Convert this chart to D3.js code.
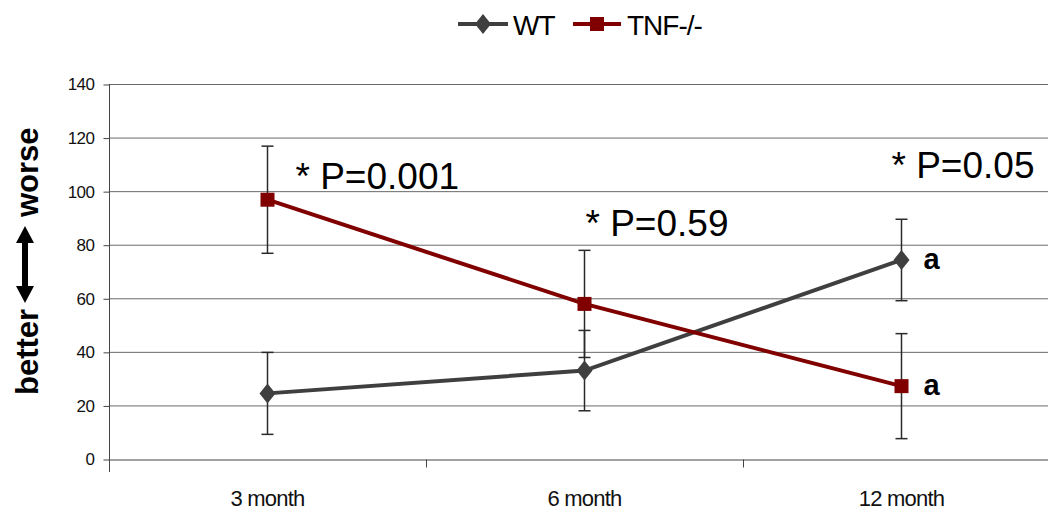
<!DOCTYPE html>
<html>
<head>
<meta charset="utf-8">
<script src="https://cdn.jsdelivr.net/npm/d3@7"></script>
<style>
  body { margin: 0; background: #fff; }
  svg { display: block; font-family: Arial, "Liberation Sans", sans-serif; }
</style>
</head>
<body>
<svg id="canvas" width="1048" height="510"></svg>
<script>
// data
let months = ['3 month', '6 month', '12 month']
let wtMean = [24.5, 33, 74.3]
let wtErr = [15.3, 15, 15.2]
let tnfMean = [96.8, 57.9, 27.2]
let tnfErr = [20, 20, 19.6]
let yTicks = [0, 20, 40, 60, 80, 100, 120, 140]
let pLabels = ['* P=0.001', '* P=0.59', '* P=0.05']
let pLevels = [100.8, 83.3, 104.9]
let groupLabels = ['a', 'a']

let svg = d3.select('#canvas')

let xScale = d3.scaleBand()
                .domain(months)
                .range([109, 1060])
                .padding(0)

let yScale = d3.scaleLinear()
                .domain([0, 140])
                .range([459, 84])

let cx = (m) => xScale(m) + xScale.bandwidth() / 2

// grid lines
svg.append('g')
    .selectAll('line')
    .data(yTicks.slice(1))
    .enter()
    .append('line')
    .attr('x1', 109)
    .attr('x2', 1048)
    .attr('y1', (d) => yScale(d) + 0.5)
    .attr('y2', (d) => yScale(d) + 0.5)
    .attr('stroke', '#6a6a6a')
    .attr('stroke-width', 1)

// y axis
let yAxis = d3.axisLeft(yScale).tickValues(yTicks).tickSize(6).tickSizeOuter(0).tickPadding(9)
let yG = svg.append('g')
    .attr('transform', 'translate(109.5, 0.5)')
    .call(yAxis)
yG.select('.domain').attr('stroke', '#444').attr('d', 'M0,0V388').attr('transform', 'translate(0,83.5)')
yG.selectAll('.tick line').attr('stroke', '#444')
yG.selectAll('.tick text')
    .attr('font-size', 17)
    .attr('letter-spacing', -0.5)
    .attr('fill', '#111')
    .attr('font-family', 'Arial, "Liberation Sans", sans-serif')

// x axis
let xAxis = d3.axisBottom(xScale).tickSize(0).tickPadding(0).tickFormat('')
let xG = svg.append('g')
    .attr('transform', 'translate(0, 459.5)')
    .call(xAxis)
xG.select('.domain').attr('stroke', '#444')
xG.selectAll('.sep')
    .data(months)
    .enter()
    .append('line')
    .attr('x1', (d) => xScale(d) + 0.5)
    .attr('x2', (d) => xScale(d) + 0.5)
    .attr('y1', 0)
    .attr('y2', 8)
    .attr('stroke', '#444')
svg.append('g')
    .selectAll('text')
    .data(months)
    .enter()
    .append('text')
    .attr('x', (d) => cx(d))
    .attr('y', 506)
    .attr('text-anchor', 'middle')
    .attr('font-size', 22)
    .attr('letter-spacing', -0.8)
    .attr('fill', '#111')
    .text((d) => d)

// error bars
let drawErrors = (means, errs) => {
    let g = svg.append('g').attr('stroke', '#2a2a2a').attr('stroke-width', 1.5)
    months.forEach((m, i) => {
        let x = cx(m)
        let top = yScale(means[i] + errs[i])
        let bot = yScale(means[i] - errs[i])
        g.append('line').attr('x1', x).attr('x2', x).attr('y1', top).attr('y2', bot)
        g.append('line').attr('x1', x - 6).attr('x2', x + 6).attr('y1', top).attr('y2', top)
        g.append('line').attr('x1', x - 6).attr('x2', x + 6).attr('y1', bot).attr('y2', bot)
    })
}
drawErrors(wtMean, wtErr)
drawErrors(tnfMean, tnfErr)

let line = d3.line()
                .x((d, i) => cx(months[i]))
                .y((d) => yScale(d))

let wtColor = '#3f3f3f'
let tnfColor = '#800000'

svg.append('path')
    .datum(wtMean)
    .attr('d', line)
    .attr('fill', 'none')
    .attr('stroke', wtColor)
    .attr('stroke-width', 4)

svg.append('path')
    .datum(tnfMean)
    .attr('d', line)
    .attr('fill', 'none')
    .attr('stroke', tnfColor)
    .attr('stroke-width', 4)

let diamond = (x, y) => 'M' + x + ',' + (y - 10) + 'L' + (x + 8) + ',' + y + 'L' + x + ',' + (y + 10) + 'L' + (x - 8) + ',' + y + 'Z'

svg.append('g')
    .selectAll('path')
    .data(wtMean)
    .enter()
    .append('path')
    .attr('d', (d, i) => diamond(cx(months[i]), yScale(d)))
    .attr('fill', wtColor)

svg.append('g')
    .selectAll('rect')
    .data(tnfMean)
    .enter()
    .append('rect')
    .attr('x', (d, i) => cx(months[i]) - 7)
    .attr('y', (d) => yScale(d) - 7)
    .attr('width', 14)
    .attr('height', 14)
    .attr('fill', tnfColor)

// p-value notes
let pOffsets = [28, 1, -10]
svg.append('g')
    .selectAll('text')
    .data(pLabels)
    .enter()
    .append('text')
    .attr('x', (d, i) => cx(months[i]) + pOffsets[i])
    .attr('y', (d, i) => yScale(pLevels[i]))
    .attr('font-size', 37)
    .attr('fill', '#000')
    .text((d) => d)

// 'a' marks at 12 month
let lastMeans = [wtMean[2], tnfMean[2]]
svg.append('g')
    .selectAll('text')
    .data(groupLabels)
    .enter()
    .append('text')
    .attr('x', cx(months[2]) + 22)
    .attr('y', (d, i) => yScale(lastMeans[i]) + 9)
    .attr('font-size', 29)
    .attr('font-weight', 'bold')
    .attr('fill', '#000')
    .text((d) => d)

// y axis label: better <-> worse
let lab = svg.append('g').attr('transform', 'translate(38, 0) rotate(-90)')
lab.append('text')
    .attr('x', -395)
    .attr('y', 0)
    .attr('font-size', 31)
    .attr('font-weight', 'bold')
    .text('better')
lab.append('text')
    .attr('x', -217)
    .attr('y', 0)
    .attr('font-size', 31)
    .attr('font-weight', 'bold')
    .text('worse')
lab.append('line')
    .attr('x1', -290).attr('x2', -239)
    .attr('y1', -13).attr('y2', -13)
    .attr('stroke', '#000')
    .attr('stroke-width', 6)
lab.append('path')
    .attr('d', 'M-303,-13L-286,-22L-286,-4Z M-226,-13L-243,-22L-243,-4Z')
    .attr('fill', '#000')

// legend
let legend = svg.append('g')
legend.append('line').attr('x1', 458).attr('x2', 508).attr('y1', 24).attr('y2', 24)
    .attr('stroke', wtColor).attr('stroke-width', 4)
legend.append('path').attr('d', diamond(483, 24)).attr('fill', wtColor)
legend.append('text').attr('x', 513).attr('y', 35).attr('font-size', 28).attr('letter-spacing', -1).text('WT')
legend.append('line').attr('x1', 573).attr('x2', 621).attr('y1', 24).attr('y2', 24)
    .attr('stroke', tnfColor).attr('stroke-width', 4)
legend.append('rect').attr('x', 590).attr('y', 17).attr('width', 14).attr('height', 14).attr('fill', tnfColor)
legend.append('text').attr('x', 627).attr('y', 35).attr('font-size', 28).attr('letter-spacing', -1).text('TNF-/-')
</script>
</body>
</html>
